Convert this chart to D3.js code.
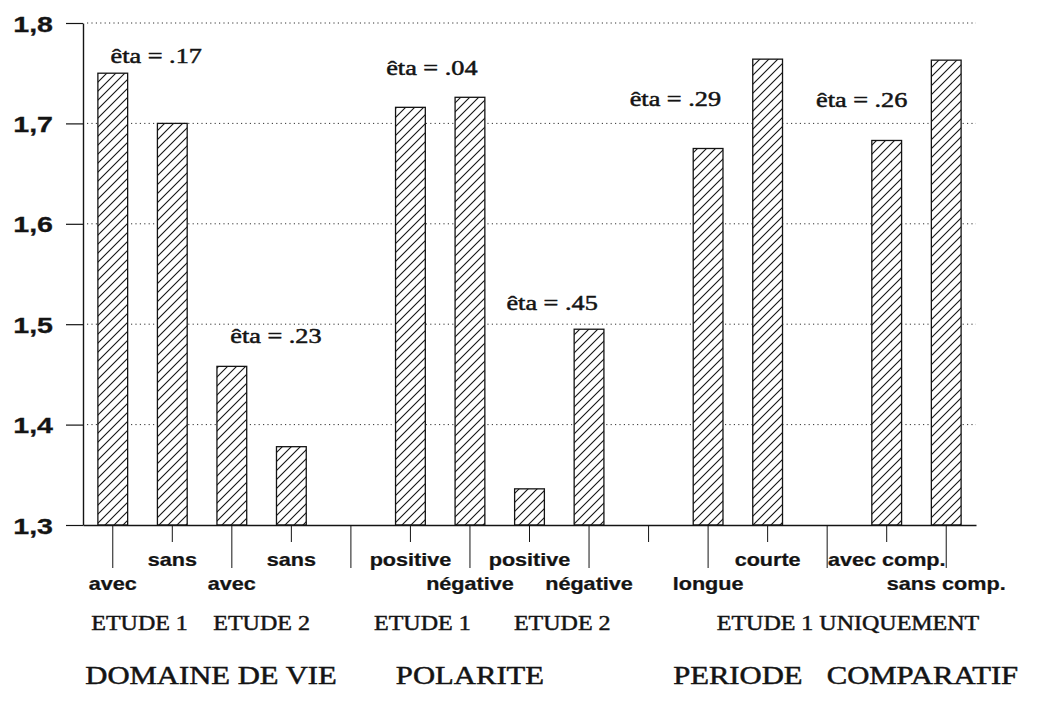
<!DOCTYPE html>
<html>
<head>
<meta charset="utf-8">
<script src="https://cdn.jsdelivr.net/npm/d3@7"></script>
<style>
  html, body { margin: 0; padding: 0; background: #fff; }
  svg { display: block; }
</style>
</head>
<body>
<svg id="chart" width="1040" height="702"></svg>
<script>
// Mean scores per condition, in display order
const categories = ["avec", "sans", "avec", "sans",
                    "positive", "négative", "positive", "négative",
                    "longue", "courte", "avec comp.", "sans comp."];
const values = [1.750, 1.700, 1.458, 1.378,
                1.716, 1.726, 1.336, 1.495,
                1.675, 1.764, 1.683, 1.763];
// Effect size for each pair of bars
const etaLabels = ["êta = .17", "êta = .23", "êta = .04", "êta = .45", "êta = .29", "êta = .26"];
const studyLabels = ["ETUDE 1", "ETUDE 2", "ETUDE 1", "ETUDE 2", "ETUDE 1 UNIQUEMENT"];
const factorLabels = ["DOMAINE DE VIE", "POLARITE", "PERIODE", "COMPARATIF"];
const yTicks = [1.3, 1.4, 1.5, 1.6, 1.7, 1.8];

// Layout: which bar sits in each slot of the x axis (null = spacer slot)
const slotPlan = [0, 1, 2, 3, null, 4, 5, 6, 7, null, 8, 9, null, 10, 11];
// Annotation anchors: x in slot units, y as a value on the y scale (text baseline)
const etaAnchors = [[0.73, 1.760], [2.74, 1.481], [5.36, 1.748], [7.38, 1.514], [9.45, 1.717], [12.58, 1.716]];
const studyAnchors = [0.45, 2.5, 5.2, 7.55, 12.35];
const factorAnchors = [1.65, 6.0, 10.5, 13.6];

const ink = "#141414";
const plot = { left: 83, right: 976, top: 23, bottom: 525 };
const svg = d3.select("#chart");

const x = d3.scaleBand()
  .domain(d3.range(slotPlan.length))
  .range([plot.left, plot.right])
  .paddingInner(0.5)
  .paddingOuter(0.25);
const y = d3.scaleLinear().domain([1.3, 1.8]).range([plot.bottom, plot.top]);
// centre of a (possibly fractional) slot position
const xc = s => x(0) + x.bandwidth() / 2 + s * x.step();

// Text is drawn horizontally widened, like the printed figure
function wideText(sel, px, py, sx) {
  return sel.attr("transform", `translate(${px},${py}) scale(${sx},1)`);
}
const serif = "'Liberation Serif', 'Times New Roman', serif";
const sans = "'Liberation Sans', Arial, sans-serif";

// Diagonal hatch fill for the bars
const defs = svg.append("defs");
const pat = defs.append("pattern")
  .attr("id", "hatch")
  .attr("patternUnits", "userSpaceOnUse")
  .attr("width", 9).attr("height", 9);
pat.append("rect").attr("width", 9).attr("height", 9).attr("fill", "#fff");
pat.append("path")
  .attr("d", "M-1,1 L1,-1 M0,9 L9,0 M8,10 L10,8")
  .attr("stroke", ink).attr("stroke-width", 1.1);

// Dotted horizontal gridlines
svg.append("g")
  .selectAll("line")
  .data(yTicks.filter(t => t > 1.3))
  .join("line")
  .attr("x1", plot.left + 4).attr("x2", plot.right)
  .attr("y1", d => y(d)).attr("y2", d => y(d))
  .attr("stroke", "#333").attr("stroke-width", 1)
  .attr("stroke-dasharray", "1.2,3.2");

// Y axis
const yAxis = svg.append("g")
  .attr("transform", `translate(${plot.left},0)`)
  .call(d3.axisLeft(y)
    .tickValues(yTicks)
    .tickSize(17)
    .tickSizeOuter(0)
    .tickPadding(0)
    .tickFormat(d => d.toFixed(1).replace(".", ",")));
yAxis.select(".domain").attr("stroke", ink).attr("stroke-width", 1.4);
yAxis.selectAll(".tick line").attr("stroke", ink).attr("stroke-width", 1.2);
yAxis.selectAll(".tick text")
  .attr("x", null).attr("dy", null)
  .attr("fill", ink)
  .attr("stroke", ink).attr("stroke-width", 0.3)
  .style("font-family", sans)
  .style("font-size", "22px")
  .style("font-weight", "bold")
  .attr("text-anchor", "end")
  .each(function () { wideText(d3.select(this), -30, 8, 1.3); });

// Bars
const bars = slotPlan
  .map((b, slot) => b === null ? null : { slot, label: categories[b], value: values[b] })
  .filter(d => d);
svg.append("g")
  .selectAll("rect")
  .data(bars)
  .join("rect")
  .attr("x", d => x(d.slot))
  .attr("width", x.bandwidth())
  .attr("y", d => y(d.value))
  .attr("height", d => y(1.3) - y(d.value))
  .attr("fill", "url(#hatch)")
  .attr("stroke", ink)
  .attr("stroke-width", 1.3);

// X axis with staggered category labels
const xAxis = svg.append("g")
  .attr("transform", `translate(0,${plot.bottom})`)
  .call(d3.axisBottom(x)
    .tickSizeOuter(0)
    .tickFormat(s => slotPlan[s] === null ? "" : categories[slotPlan[s]]));
xAxis.select(".domain").attr("stroke", ink).attr("stroke-width", 1.5);
xAxis.selectAll(".tick line")
  .attr("stroke", ink).attr("stroke-width", 1)
  .attr("y2", s => s % 2 === 0 ? 43 : 17);
xAxis.selectAll(".tick text")
  .attr("y", null).attr("dy", null)
  .attr("fill", ink)
  .attr("stroke", ink).attr("stroke-width", 0.25)
  .style("font-family", sans)
  .style("font-size", "18px")
  .style("font-weight", "bold")
  .attr("text-anchor", "middle")
  .each(function (s) { wideText(d3.select(this), 0, s % 2 === 0 ? 65 : 41, 1.2); });

// Effect-size annotations
svg.append("g")
  .selectAll("text")
  .data(etaLabels)
  .join("text")
  .text(d => d)
  .attr("text-anchor", "middle")
  .attr("fill", ink)
  .attr("stroke", ink).attr("stroke-width", 0.5)
  .style("font-family", serif)
  .style("font-size", "21px")
  .each(function (d, i) { wideText(d3.select(this), xc(etaAnchors[i][0]), y(etaAnchors[i][1]), 1.25); });

// Study row
svg.append("g")
  .selectAll("text")
  .data(studyLabels)
  .join("text")
  .text(d => d)
  .attr("text-anchor", "middle")
  .attr("fill", ink)
  .attr("stroke", ink).attr("stroke-width", 0.45)
  .style("font-family", serif)
  .style("font-size", "20px")
  .each(function (d, i) { wideText(d3.select(this), xc(studyAnchors[i]), 630, 1.2); });

// Factor row
svg.append("g")
  .selectAll("text")
  .data(factorLabels)
  .join("text")
  .text(d => d)
  .attr("text-anchor", "middle")
  .attr("fill", ink)
  .attr("stroke", ink).attr("stroke-width", 0.5)
  .style("font-family", serif)
  .style("font-size", "26px")
  .each(function (d, i) { wideText(d3.select(this), xc(factorAnchors[i]), 684, 1.18); });
</script>
</body>
</html>
